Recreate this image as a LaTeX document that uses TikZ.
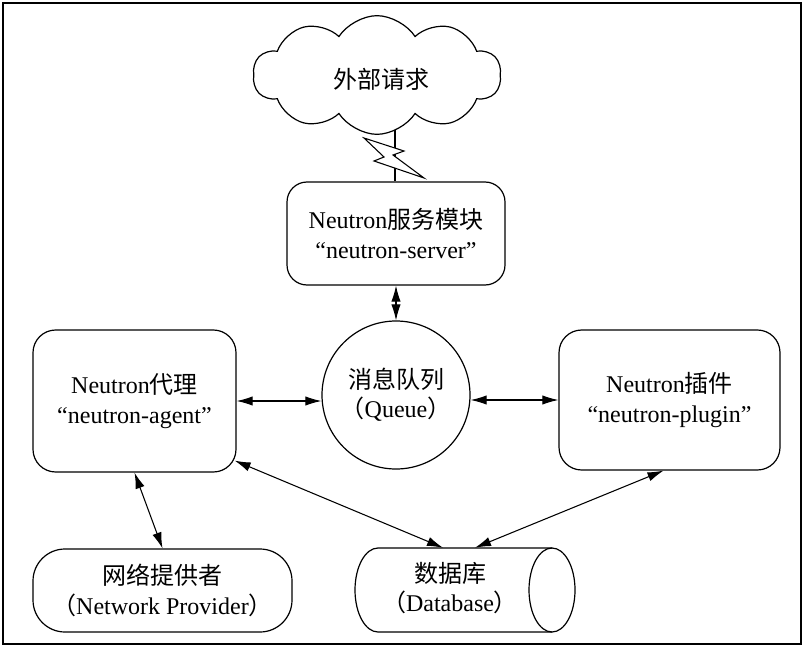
\documentclass[tikz,border=0pt]{standalone}
\usepackage{fontspec}
\setmainfont{Liberation Serif}
\newfontfamily\cjk{Noto Sans CJK SC}
\usetikzlibrary{arrows.meta,shapes.symbols,calc}
\newcommand\zh[1]{{\cjk #1}}
\begin{document}
\begin{tikzpicture}[x=0.75pt,y=-0.75pt,
  every node/.style={font=\fontsize{18}{22}\selectfont, align=center, inner sep=0pt},
  box/.style={draw, line width=0.9pt, rounded corners=17pt},
  link/.style={line width=0.8pt, {Latex[length=12pt,width=7pt]}-{Latex[length=12pt,width=7pt]}}
]
\useasboundingbox (0,0) rectangle (805,649);
\draw[line width=1.5pt] (3,3) rectangle (801,644);

% server
\node[box, rounded corners=15pt, minimum width=163.5pt, minimum height=77.25pt] (server) at (396,233.5)
  {Neutron\zh{服务模块}\\“neutron-server”};

% lightning line (drawn under the cloud)
\coordinate (lt) at (395,110);
\draw[line width=1pt] (lt) -- (lt |- server.north);

% cloud
\node[cloud, draw, fill=white, line width=0.9pt, cloud puffs=10, cloud puff arc=115, aspect=2.2,
      minimum width=186pt, minimum height=89pt] (cloud) at (377,75) {};
\node (cloudtext) at (381,79) {\zh{外部请求}};

% lightning bolt
\draw[line width=0.8pt, fill=white] (364,138) -- (404,151) -- (393,155) -- (424,178) -- (374,161) -- (384,157) -- cycle;

% queue
\node[draw, circle, line width=0.9pt, minimum size=111pt] (queue) at (396,395)
  {\zh{消息队列}\\\zh{（}Queue\zh{）}};

% agent
\node[box, minimum width=152.25pt, minimum height=106.5pt] (agent) at (134.5,401)
  {Neutron\zh{代理}\\“neutron-agent”};

% plugin
\node[box, minimum width=165.75pt, minimum height=105pt] (plugin) at (669.5,400)
  {Neutron\zh{插件}\\“neutron-plugin”};

% network provider
\node[box, rounded corners=24pt, minimum width=194.25pt, minimum height=62.25pt] (net) at (162.5,590.5)
  {\zh{网络提供者}\\\zh{（}Network Provider\zh{）}};

% database cylinder
\node[minimum width=165pt, minimum height=63pt] (db) at (465,590) {};
\draw[line width=0.9pt, fill=white] (552,548) -- (378,548)
   arc[start angle=90, end angle=270, x radius=17.25pt, y radius=31.5pt] -- (552,632);
\draw[line width=0.9pt] (552,590) ellipse[x radius=17.25pt, y radius=31.5pt];
\node (dbtext) at (450,588) {\zh{数据库}\\\zh{（}Database\zh{）}};

% connectors
\draw[link] (server.south) -- (queue.north);
\draw[link] (agent.east) -- (agent.east -| queue.west);
\draw[link] (plugin.west) -- (plugin.west -| queue.east);
\draw[link] (agent.south) -- (net.north);
\draw[link] ($(agent.south east)+(-2,-12)$) -- ($(db.north)+(-22,0)$);
\draw[link] ($(plugin.south)+(-6,0)$) -- ($(db.north)+(10,0)$);
\end{tikzpicture}
\end{document}
